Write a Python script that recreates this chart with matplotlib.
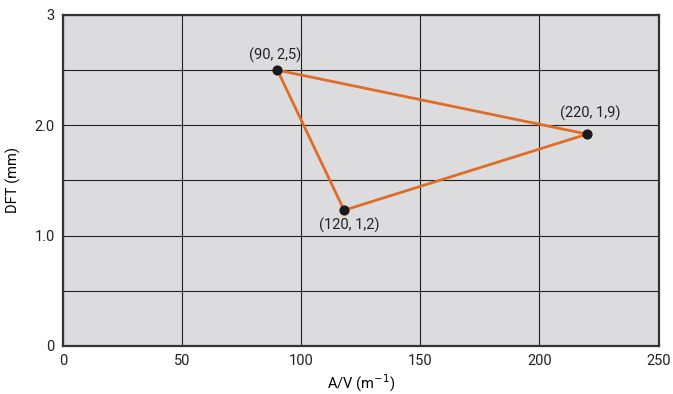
import matplotlib
matplotlib.use('Agg')
import matplotlib.pyplot as plt
import numpy as np

# triangle vertices (closed path back to the first point)
av = [90, 220, 118, 90]
dft = [2.5, 1.92, 1.23, 2.5]
pt_labels = ['(90, 2,5)', '(220, 1,9)', '(120, 1,2)']
label_off = [(-2, 11), (2, 15), (4, -11)]

xticks = [0, 50, 100, 150, 200, 250]
yticks = [0, 1.0, 2.0, 3]
ytick_labels = ['0', '1.0', '2.0', '3']

plt.rcParams['font.family'] = ['Roboto', 'DejaVu Sans']
plt.rcParams['font.size'] = 10.5

fig = plt.figure(figsize=(6.73, 3.94), dpi=100)
ax = fig.add_axes([0.0936, 0.122, 0.885, 0.84])
ax.set_facecolor('#dcdcde')

ax.plot(av, dft, color='#e06d27', lw=2.0, zorder=3)
ax.scatter(av[:3], dft[:3], s=40, color='#1a1a1a', zorder=4)
for x, y, t, (dx, dy) in zip(av[:3], dft[:3], pt_labels, label_off):
    ax.annotate(t, (x, y), xytext=(dx, dy), textcoords='offset points',
                ha='center', va='center', fontsize=10.5, color='#222')

ax.set_xlim(0, 250)
ax.set_ylim(0, 3)
ax.set_xticks(xticks)
ax.set_yticks(yticks)
ax.set_yticklabels(ytick_labels)
ax.set_yticks(np.arange(0, 3.01, 0.5), minor=True)
ax.grid(True, which='both', color='#222', lw=0.8)
ax.set_axisbelow(True)
ax.tick_params(which='both', length=0, pad=6, colors='#222')
for sp in ax.spines.values():
    sp.set_color('#333')
    sp.set_linewidth(1.6)

ax.set_xlabel('A/V (m$^{-1}$)', labelpad=3)
ax.set_ylabel('DFT (mm)', labelpad=10)

fig.savefig('out.png', dpi=100)
